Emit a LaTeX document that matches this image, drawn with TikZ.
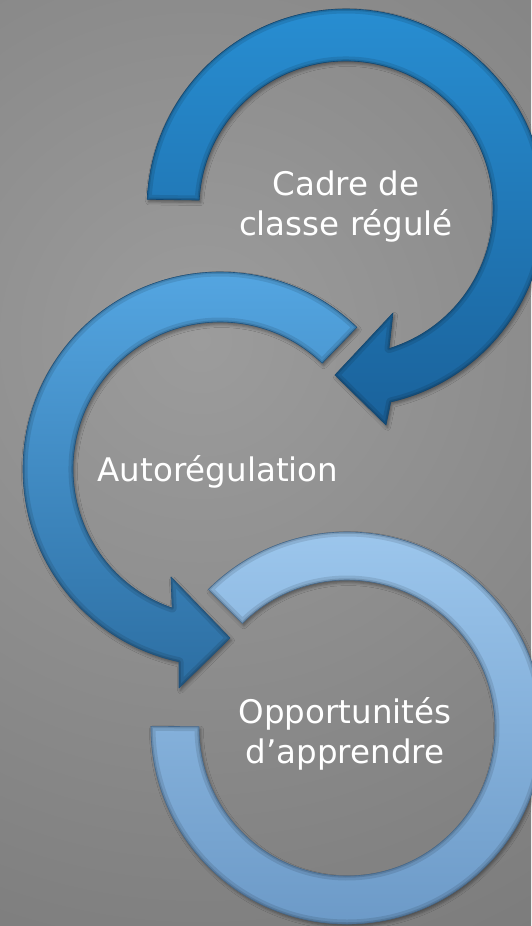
\documentclass[tikz,border=0pt]{standalone}
\usepackage{fontspec}
\setmainfont{DejaVu Sans}
\usetikzlibrary{calc,shadows.blur}
\definecolor{bgIn}{RGB}{156,156,156}
\definecolor{bgOut}{RGB}{104,104,104}
\definecolor{aOneTop}{RGB}{40,142,210}
\definecolor{aOneBot}{RGB}{26,98,155}
\definecolor{aOneLine}{RGB}{18,70,112}
\definecolor{aTwoTop}{RGB}{86,168,228}
\definecolor{aTwoBot}{RGB}{44,110,162}
\definecolor{aTwoLine}{RGB}{30,80,122}
\definecolor{aThreeTop}{RGB}{158,200,238}
\definecolor{aThreeBot}{RGB}{106,152,198}
\definecolor{aThreeLine}{RGB}{70,105,140}
\newcommand{\shapeOne}{($(c1)+(182.5:199)$) arc[start angle=182.5, end angle=437, radius=199]
  -- (386,425) -- (335,375) -- (393,313)
  -- ($(c1)+(433:147)$) arc[start angle=433, end angle=183.1, radius=147] -- cycle}
\newcommand{\shapeTwo}{($(c2)+(-46:197)$) arc[start angle=-46, end angle=-258, radius=197]
  -- (179,688) -- (230,638) -- (171,577)
  -- ($(c2)+(-251:147)$) arc[start angle=-251, end angle=-46, radius=147] -- cycle}
\newcommand{\shapeThree}{($(c3)+(225:196)$) arc[start angle=225, end angle=540.5, radius=196]
  -- ($(c3)+(540.5:148)$) arc[start angle=540.5, end angle=225, radius=148] -- cycle}
\begin{document}
\begin{tikzpicture}[x=1pt,y=-1pt,
  arrowshape/.style={line width=0.6pt, line join=round,
    blur shadow={shadow xshift=1.5pt,shadow yshift=-2.5pt,shadow blur radius=3pt,shadow opacity=40}},
  bevelwide/.style={line width=9pt, black, opacity=0.10, line join=round},
  bevelnarrow/.style={line width=3.5pt, black, opacity=0.12, line join=round},
  lbl/.style={text=white, font=\fontsize{32.5}{40}\selectfont, align=center, inner sep=0pt}]
\useasboundingbox (0,0) rectangle (531,926);
\begin{scope}
  \clip (0,0) rectangle (531,926);
  \shade[inner color=bgIn, outer color=bgOut] (200,340) circle[radius=1100];
\end{scope}
\coordinate (c1) at (346,208);
\coordinate (c2) at (220,469);
\coordinate (c3) at (347,728);
% arrow 1
\shade[arrowshape, top color=aOneTop, bottom color=aOneBot] \shapeOne;
\begin{scope}
  \clip \shapeOne;
  \draw[bevelwide] \shapeOne;
  \draw[bevelnarrow] \shapeOne;
\end{scope}
\draw[aOneLine, line width=0.6pt, line join=round] \shapeOne;
% arrow 2
\shade[arrowshape, top color=aTwoTop, bottom color=aTwoBot] \shapeTwo;
\begin{scope}
  \clip \shapeTwo;
  \draw[bevelwide] \shapeTwo;
  \draw[bevelnarrow] \shapeTwo;
\end{scope}
\draw[aTwoLine, line width=0.6pt, line join=round] \shapeTwo;
% arc 3
\shade[arrowshape, top color=aThreeTop, bottom color=aThreeBot] \shapeThree;
\begin{scope}
  \clip \shapeThree;
  \draw[bevelwide] \shapeThree;
  \draw[bevelnarrow] \shapeThree;
\end{scope}
\draw[aThreeLine, line width=0.6pt, line join=round] \shapeThree;
\node[lbl] (t1) at (346,206.5) {Cadre de\\classe régulé};
\node[lbl, anchor=base] (t2) at (218,481) {Autorégulation};
\node[lbl] (t3) at (345,734) {Opportunités\\d’apprendre};
\end{tikzpicture}
\end{document}
